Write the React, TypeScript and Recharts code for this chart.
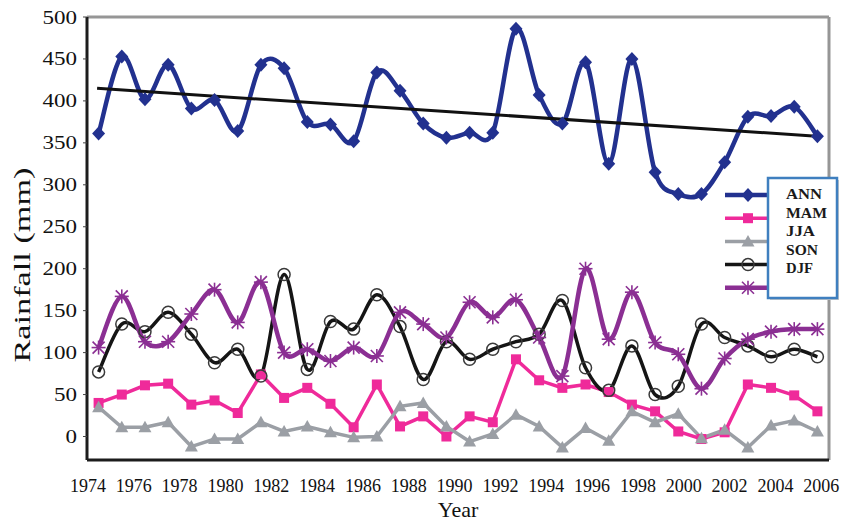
import { Label, Legend, Line, LineChart, ReferenceLine, XAxis, YAxis } from "recharts";

const years = [
  1975, 1976, 1977, 1978, 1979, 1980, 1981, 1982, 1983, 1984, 1985, 1986, 1987, 1988, 1989, 1990,
  1991, 1992, 1993, 1994, 1995, 1996, 1997, 1998, 1999, 2000, 2001, 2002, 2003, 2004, 2005, 2006,
];
const ann = [
  361, 453, 402, 443, 391, 401, 364, 443, 439, 375, 372, 352, 434, 412, 373, 356,
  362, 362, 486, 407, 373, 446, 325, 450, 315, 289, 289, 327, 381, 382, 393, 358,
];
const mam = [
  40, 50, 61, 63, 38, 43, 28, 74, 46, 58, 39, 11, 62, 12, 24, 0,
  24, 17, 92, 67, 58, 62, 53, 38, 30, 6, -3, 5, 62, 58, 49, 30,
];
const jja = [
  35, 11, 11, 17, -12, -3, -3, 17, 6, 12, 5, -1, 0, 36, 40, 12,
  -6, 3, 26, 12, -13, 10, -5, 30, 17, 27, -2, 8, -13, 13, 19, 6,
];
const son = [
  77, 134, 125, 148, 122, 88, 104, 72, 193, 80, 137, 128, 169, 131, 68, 113,
  92, 104, 113, 122, 162, 82, 55, 108, 50, 60, 134, 118, 108, 95, 104, 95,
];
const djf = [
  106, 167, 113, 113, 146, 175, 136, 184, 100, 104, 90, 106, 96, 148, 134, 118,
  160, 142, 163, 118, 72, 200, 116, 172, 112, 98, 57, 93, 116, 125, 128, 128,
];
// linear trend of ANN, as drawn on the year scale of the labels
const trendLine = [
  { year: 1974.4, rain: 415 },
  { year: 2005.8, rain: 358 },
];

const yearLabels = [1974, 1976, 1978, 1980, 1982, 1984, 1986, 1988, 1990, 1992, 1994, 1996, 1998, 2000, 2002, 2004, 2006];
const rainTicks = [0, 50, 100, 150, 200, 250, 300, 350, 400, 450, 500];

const rows = years.map((year, i) => ({
  i,
  ANN: ann[i],
  MAM: mam[i],
  JJA: jja[i],
  SON: son[i],
  DJF: djf[i],
}));

// category boundaries, where the small tick marks sit
const boundaries = [...years.map((_, i) => i - 0.5), years.length - 0.5];

const SERIF = "'Liberation Serif', 'Times New Roman', serif";

type Shape = "diamond" | "square" | "triangle" | "circle" | "star";

const series: { key: string; color: string; width: number; shape: Shape; smooth: boolean; textLen: number }[] = [
  { key: "ANN", color: "#22318f", width: 4.5, shape: "diamond", smooth: true, textLen: 36 },
  { key: "MAM", color: "#ef2a9a", width: 3.5, shape: "square", smooth: false, textLen: 41 },
  { key: "JJA", color: "#9b9fa5", width: 3.5, shape: "triangle", smooth: false, textLen: 29 },
  { key: "SON", color: "#151515", width: 3.5, shape: "circle", smooth: true, textLen: 32 },
  { key: "DJF", color: "#8b2f93", width: 4.5, shape: "star", smooth: true, textLen: 27 },
];

// Excel-like smoothed line (Catmull-Rom through every point)
const excelSmooth = (context: any) => {
  let pts: number[][] = [];
  return {
    areaStart() {},
    areaEnd() {},
    lineStart() {
      pts = [];
    },
    point(x: number, y: number) {
      pts.push([+x, +y]);
    },
    lineEnd() {
      if (!pts.length) return;
      context.moveTo(pts[0][0], pts[0][1]);
      for (let k = 0; k < pts.length - 1; k++) {
        const p0 = pts[Math.max(k - 1, 0)];
        const p1 = pts[k];
        const p2 = pts[k + 1];
        const p3 = pts[Math.min(k + 2, pts.length - 1)];
        context.bezierCurveTo(
          p1[0] + (p2[0] - p0[0]) / 6,
          p1[1] + (p2[1] - p0[1]) / 6,
          p2[0] - (p3[0] - p1[0]) / 6,
          p2[1] - (p3[1] - p1[1]) / 6,
          p2[0],
          p2[1],
        );
      }
    },
  };
};

function Marker({ cx, cy, shape, color }: { cx: number; cy: number; shape: Shape; color: string }) {
  if (cx == null || cy == null) return null;
  switch (shape) {
    case "diamond":
      return <polygon points={`${cx},${cy - 7} ${cx + 6.5},${cy} ${cx},${cy + 7} ${cx - 6.5},${cy}`} fill={color} />;
    case "square":
      return <rect x={cx - 5} y={cy - 5} width={10} height={10} fill={color} />;
    case "triangle":
      return <polygon points={`${cx},${cy - 6.5} ${cx + 6.5},${cy + 5} ${cx - 6.5},${cy + 5}`} fill={color} />;
    case "circle":
      return <circle cx={cx} cy={cy} r={6} fill="none" stroke="#3a3a3a" strokeWidth={1.5} />;
    default:
      return (
        <g stroke={color} strokeWidth={1.6}>
          <line x1={cx} y1={cy - 7} x2={cx} y2={cy + 7} />
          <line x1={cx - 6} y1={cy - 6} x2={cx + 6} y2={cy + 6} />
          <line x1={cx + 6} y1={cy - 6} x2={cx - 6} y2={cy + 6} />
          <line x1={cx - 7} y1={cy} x2={cx + 7} y2={cy} />
        </g>
      );
  }
}

function RainTick({ x, y, payload }: any) {
  const s = String(payload.value);
  return (
    <text x={x} y={y} dy={6.5} textAnchor="end" fontFamily={SERIF} fontSize={19} fill="#111"
      textLength={s.length * 11.5} lengthAdjust="spacingAndGlyphs">
      {s}
    </text>
  );
}

function YearTick({ x, y, payload }: any) {
  return (
    <text x={x} y={y} dy={24} textAnchor="middle" fontFamily={SERIF} fontSize={18} fill="#111">
      {payload.value}
    </text>
  );
}

function LegendBox() {
  return (
    <svg width={122} height={130}>
      {series.map((s, k) => {
        const y = 21 + k * 23.2;
        return (
          <g key={s.key}>
            <line x1={5} y1={y} x2={52} y2={y} stroke={s.color} strokeWidth={s.width} />
            <Marker cx={28} cy={y} shape={s.shape} color={s.color} />
          </g>
        );
      })}
      <rect x={50} y={6} width={69} height={120} fill="#c9c9c9" />
      <rect x={48} y={4} width={69} height={120} fill="#fff" stroke="#3f7fbf" strokeWidth={2.5} />
      {series.map((s, k) => (
        <text key={s.key} x={66} y={25 + k * 18.5} fontFamily={SERIF} fontWeight="bold" fontSize={14} fill="#1a1a1a"
          textLength={s.textLen} lengthAdjust="spacingAndGlyphs">
          {s.key}
        </text>
      ))}
    </svg>
  );
}

export default function App() {
  return (
    <div style={{ position: "absolute", left: 0, top: 0, background: "#fff" }}>
      <LineChart width={842} height={523} data={rows} margin={{ top: 17, right: 13, bottom: 0, left: 0 }}>
        <XAxis
          dataKey="i"
          type="number"
          domain={[-0.5, years.length - 0.5]}
          ticks={boundaries}
          tick={false}
          tickSize={6}
          height={8}
          axisLine={{ stroke: "#1c1c1c", strokeWidth: 3 }}
          tickLine={{ stroke: "#1c1c1c", strokeWidth: 1.5 }}
        />
        <XAxis
          xAxisId="yr"
          dataKey="year"
          type="number"
          domain={[1973.96, 2006.34]}
          allowDataOverflow
          ticks={yearLabels}
          interval={0}
          tick={<YearTick />}
          tickSize={0}
          tickMargin={0}
          axisLine={false}
          tickLine={false}
          height={55}
        >
          <Label value="Year" position="insideBottom" offset={6} fontFamily={SERIF} fontSize={22} fill="#111" />
        </XAxis>
        <YAxis
          type="number"
          domain={[-28, 500]}
          ticks={rainTicks}
          interval={0}
          width={87}
          tick={<RainTick />}
          tickSize={4}
          tickMargin={6}
          axisLine={{ stroke: "#1c1c1c", strokeWidth: 3 }}
          tickLine={{ stroke: "#444", strokeWidth: 1 }}
        >
          <Label
            content={({ viewBox }: any) => {
              const cx = viewBox.x + 22;
              const cy = viewBox.y + 248;
              return (
                <text x={cx} y={cy} transform={`rotate(-90 ${cx} ${cy})`} textAnchor="middle" dominantBaseline="central"
                  fontFamily={SERIF} fontSize={23} fill="#111" textLength={195} lengthAdjust="spacingAndGlyphs">
                  Rainfall (mm)
                </text>
              );
            }}
          />
        </YAxis>
        <ReferenceLine y={500} stroke="#969696" strokeWidth={3} />
        <ReferenceLine x={years.length - 0.5} stroke="#969696" strokeWidth={3} />
        {series.map((s) => (
          <Line
            key={s.key}
            dataKey={s.key}
            name={s.key}
            type={s.smooth ? (excelSmooth as any) : "linear"}
            stroke={s.color}
            strokeWidth={s.width}
            dot={(p: any) => <Marker key={`${s.key}-${p.index}`} cx={p.cx} cy={p.cy} shape={s.shape} color={s.color} />}
            activeDot={false}
            isAnimationActive={false}
          />
        ))}
        <Line
          xAxisId="yr"
          data={trendLine}
          dataKey="rain"
          type="linear"
          stroke="#111"
          strokeWidth={3}
          dot={false}
          activeDot={false}
          legendType="none"
          isAnimationActive={false}
        />
        <Legend
          layout="horizontal"
          verticalAlign="middle"
          align="center"
          wrapperStyle={{ left: 720, top: 174, width: 122, height: 130 }}
          content={() => <LegendBox />}
        />
      </LineChart>
    </div>
  );
}
